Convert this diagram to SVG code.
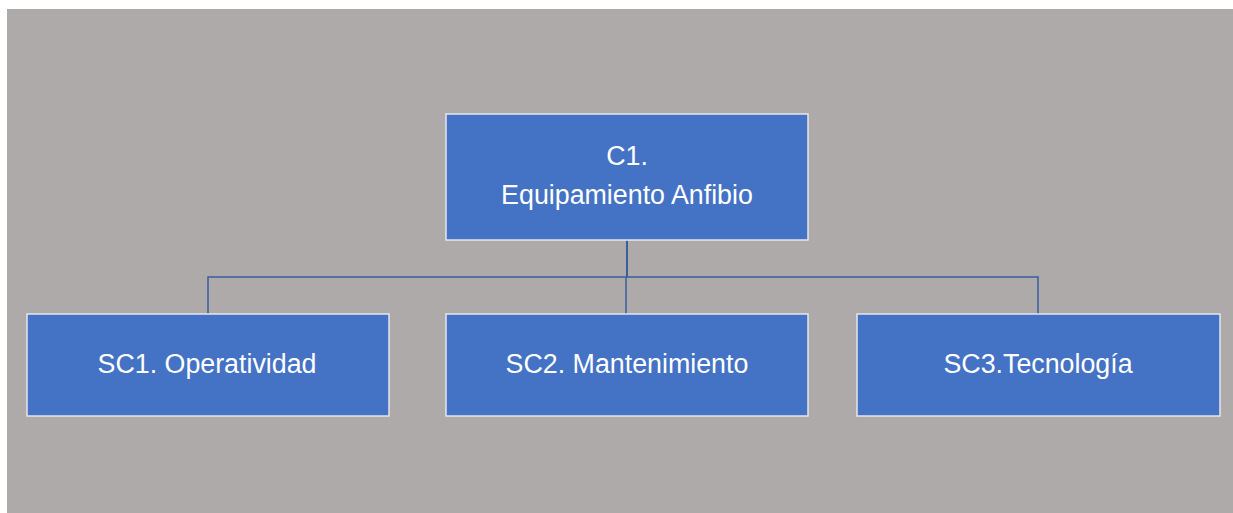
<svg xmlns="http://www.w3.org/2000/svg" width="1233" height="513" viewBox="0 0 1233 513">
<style>
.box{fill:#4472C4;stroke:#E6E6EA;stroke-width:1.5}
.lbl{font-family:"Liberation Sans",Arial,sans-serif;font-size:26.8px;fill:#FFFFFF;text-anchor:middle}
.conn{stroke:#3A5F9E;stroke-width:1.5;fill:none}
</style>
<rect x="0" y="0" width="1233" height="513" fill="#FFFFFF"/>
<rect x="7" y="9" width="1226" height="504" fill="#AEAAA9"/>
<g id="connectors">
<line class="conn" x1="627" y1="240" x2="627" y2="277" style="stroke-width:2"/>
<polyline class="conn" points="208,314 208,277 1038,277 1038,314"/>
<line class="conn" x1="626" y1="277" x2="626" y2="314"/>
</g>
<g id="c1">
<rect class="box" x="446" y="114" width="362" height="126"/>
<text class="lbl" x="627" y="165">C1.</text>
<text class="lbl" x="627" y="204">Equipamiento Anfibio</text>
</g>
<g id="sc1">
<rect class="box" x="27" y="314" width="362" height="102"/>
<text class="lbl" x="207" y="373">SC1. Operatividad</text>
</g>
<g id="sc2">
<rect class="box" x="446" y="314" width="362" height="102"/>
<text class="lbl" x="627" y="373">SC2. Mantenimiento</text>
</g>
<g id="sc3">
<rect class="box" x="857" y="314" width="363" height="102"/>
<text class="lbl" x="1038" y="373">SC3.Tecnología</text>
</g>
</svg>
